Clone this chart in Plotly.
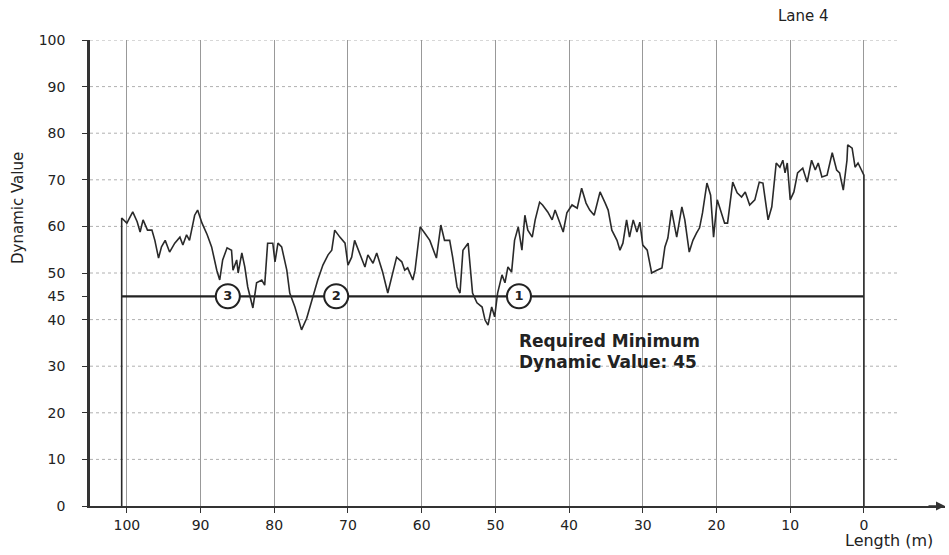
import plotly.graph_objects as go

# ---- data -------------------------------------------------------------
length_m = [100.7, 100.0, 99.6, 99.2, 98.6, 98.2, 97.8, 97.2, 96.6, 96.2, 95.7, 95.3, 94.8, 94.2,
            93.5, 92.8, 92.4, 91.9, 91.5, 90.8, 90.4, 89.8, 89.1, 88.5, 87.8, 87.4, 87.0, 86.4,
            85.8, 85.6, 85.1, 84.9, 84.4, 84.0, 83.6, 83.2, 82.9, 82.4, 81.7, 81.3, 80.9, 80.2,
            79.9, 79.5, 79.0, 78.3, 77.9, 77.2, 76.3, 75.6, 74.8, 74.1, 73.4, 72.7, 72.2, 71.8,
            71.1, 70.4, 70.0, 69.5, 69.1, 68.4, 67.7, 67.3, 66.6, 66.1, 65.3, 64.6, 63.9, 63.4,
            62.7, 62.3, 61.9, 61.2, 60.9, 60.2, 59.6, 58.9, 58.0, 57.4, 56.9, 56.2, 55.8, 55.2,
            54.8, 54.4, 53.7, 53.5, 53.1, 52.5, 51.8, 51.4, 51.0, 50.5, 50.1, 49.7, 49.1, 48.7,
            48.3, 47.8, 47.4, 46.9, 46.4, 46.0, 45.6, 45.0, 44.6, 44.0, 43.6, 42.9, 42.3, 41.9,
            41.5, 40.8, 40.3, 39.6, 38.9, 38.3, 37.7, 37.2, 36.6, 35.8, 35.1, 34.7, 34.2, 33.5,
            33.1, 32.7, 32.2, 31.8, 31.3, 30.8, 30.4, 30.0, 29.4, 28.8, 28.1, 27.4, 27.0, 26.6,
            26.1, 25.4, 24.7, 24.3, 23.7, 23.2, 22.7, 22.3, 21.9, 21.3, 20.8, 20.4, 19.9, 19.3,
            18.9, 18.5, 17.8, 17.2, 16.6, 16.1, 15.5, 14.8, 14.2, 13.7, 13.0, 12.5, 11.9, 11.4,
            11.0, 10.7, 10.4, 10.0, 9.5, 9.0, 8.3, 7.7, 7.1, 6.6, 6.2, 5.7, 5.0, 4.3, 3.7, 3.3,
            2.8, 2.3, 2.2, 1.6, 1.2, 0.8, 0.0]
dynamic_value = [61.8, 60.7, 62.0, 63.1, 61.0, 58.8, 61.4, 59.2, 59.2, 57.0, 53.2, 55.6, 57.0, 54.5,
                 56.4, 57.7, 56.0, 58.2, 57.0, 62.4, 63.5, 60.7, 58.2, 55.6, 50.6, 48.5, 52.8, 55.4,
                 54.9, 50.6, 52.8, 50.0, 54.3, 51.3, 47.0, 44.2, 42.5, 47.9, 48.5, 47.4, 56.4, 56.4,
                 52.4, 56.4, 55.6, 50.6, 45.7, 42.7, 37.8, 40.3, 44.8, 48.5, 51.7, 53.9, 54.9, 59.2,
                 57.7, 56.4, 51.7, 53.4, 57.0, 54.3, 51.3, 53.9, 52.1, 54.3, 50.2, 45.7, 50.0, 53.4,
                 52.4, 50.6, 51.1, 48.5, 50.6, 59.9, 58.6, 57.0, 53.2, 60.3, 57.0, 57.0, 53.4, 47.0,
                 45.7, 54.9, 56.4, 52.8, 45.7, 43.6, 42.7, 39.9, 38.8, 42.7, 40.6, 45.7, 49.6, 47.9,
                 51.3, 50.2, 57.0, 59.9, 54.9, 62.4, 59.2, 57.7, 61.4, 65.2, 64.6, 63.1, 61.4, 63.5,
                 61.8, 58.8, 62.9, 64.6, 63.9, 68.2, 65.0, 63.5, 62.4, 67.4, 65.0, 63.5, 59.2, 57.0,
                 54.9, 56.4, 61.4, 57.7, 61.4, 58.8, 60.9, 56.0, 54.9, 50.0, 50.6, 51.1, 55.6, 57.5,
                 63.5, 57.7, 64.2, 61.4, 54.5, 57.0, 58.6, 59.7, 62.9, 69.3, 66.7, 57.7, 65.7, 62.4,
                 60.7, 60.7, 69.5, 67.2, 66.3, 67.4, 64.6, 65.7, 69.5, 69.3, 61.4, 64.2, 73.6, 72.7,
                 74.2, 71.5, 73.6, 65.7, 67.4, 71.5, 72.5, 69.5, 74.2, 72.1, 73.6, 70.6, 71.0, 75.8,
                 72.1, 71.5, 67.8, 74.2, 77.5, 76.8, 72.7, 73.6, 71.0]

x_ticks = [100, 90, 80, 70, 60, 50, 40, 30, 20, 10, 0]
y_ticks = [0, 10, 20, 30, 40, 45, 50, 60, 70, 80, 90, 100]
y_grid = [10, 20, 30, 40, 50, 60, 70, 80, 90, 100]
required_minimum = 45
marker_x = [46.8, 71.6, 86.3]
marker_labels = ["1", "2", "3"]

FONT = "DejaVu Sans"
X_LEFT, X_RIGHT = 105.0, -11.0

fig = go.Figure()

# horizontal dotted grid lines
for g in y_grid:
    fig.add_shape(type="line", xref="x", yref="y", x0=X_LEFT, x1=-4.5, y0=g, y1=g,
                  line=dict(color="#b0b0b0", width=1, dash="dot"), layer="below")

# required minimum line
fig.add_trace(go.Scatter(x=[length_m[0], length_m[-1]], y=[required_minimum, required_minimum],
                         mode="lines", line=dict(color="#222", width=2.2),
                         hoverinfo="skip", showlegend=False))

# measurement trace (with vertical drops at both ends)
fig.add_trace(go.Scatter(x=[length_m[0]] + length_m + [length_m[-1]],
                         y=[0] + dynamic_value + [0],
                         mode="lines", line=dict(color="#2a2a2a", width=1.6),
                         showlegend=False))

# numbered circle markers
fig.add_trace(go.Scatter(x=marker_x, y=[required_minimum] * len(marker_x),
                         mode="markers+text", text=marker_labels,
                         textposition="middle center",
                         textfont=dict(family=FONT, size=13, color="#222", weight="bold"),
                         marker=dict(size=24, color="white", line=dict(color="#222", width=2)),
                         showlegend=False))

fig.update_layout(
    width=949, height=555,
    margin=dict(l=90, r=4, t=40, b=49),
    paper_bgcolor="white", plot_bgcolor="white",
    font=dict(family=FONT, color="#222"),
    xaxis=dict(range=[X_LEFT, X_RIGHT], tickvals=x_ticks, ticktext=[str(t) for t in x_ticks],
               showgrid=True, gridcolor="#999999", gridwidth=1,
               zeroline=False, showline=True, linecolor="#333", linewidth=2,
               ticks="outside", ticklen=5, tickcolor="#333",
               tickfont=dict(family=FONT, size=14, color="#222")),
    yaxis=dict(range=[0, 100], tickvals=y_ticks, showgrid=False, zeroline=False,
               showline=True, linecolor="#333", linewidth=2.5,
               ticks="outside", ticklen=5, tickcolor="#333", ticklabelstandoff=14,
               tickfont=dict(family=FONT, size=14, color="#222")),
)

# arrow on x axis
fig.add_annotation(x=X_RIGHT, y=0, xref="x", yref="y", ax=-18, ay=0, text="",
                   showarrow=True, arrowhead=2, arrowsize=1.2, arrowwidth=1.5, arrowcolor="#333")

fig.add_annotation(x=-0.084, y=0.64, xref="paper", yref="paper", text="Dynamic Value",
                   textangle=-90, showarrow=False, xanchor="center", yanchor="middle",
                   font=dict(family=FONT, size=15, color="#222"))
fig.add_annotation(x=0.9345, y=-0.075, xref="paper", yref="paper", text="Length (m)",
                   showarrow=False, xanchor="center", yanchor="middle",
                   font=dict(family=FONT, size=16, color="#222"))
fig.add_annotation(x=0.835, y=1.0515, xref="paper", yref="paper", text="Lane 4",
                   showarrow=False, xanchor="center", yanchor="middle",
                   font=dict(family=FONT, size=15, color="#222"))
fig.add_annotation(x=47.1, y=35.4, xref="x", yref="y", text="Required Minimum",
                   showarrow=False, xanchor="left", yanchor="middle",
                   font=dict(family=FONT, size=17, color="#222", weight="bold"))
fig.add_annotation(x=47.1, y=30.9, xref="x", yref="y", text="Dynamic Value: 45",
                   showarrow=False, xanchor="left", yanchor="middle",
                   font=dict(family=FONT, size=17, color="#222", weight="bold"))

fig.write_html("out.html", config={"displayModeBar": False},
               post_script="document.body.style.margin='0';document.body.style.padding='0';")
